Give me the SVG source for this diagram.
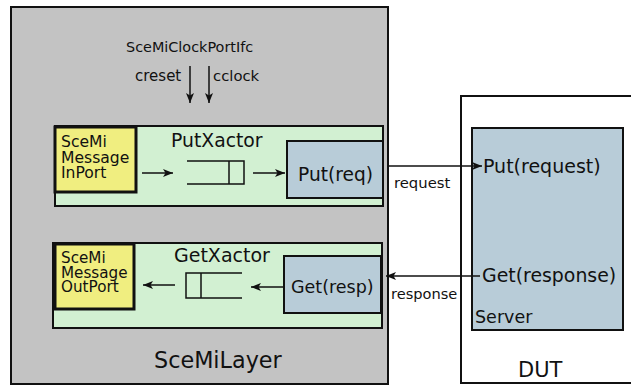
<svg xmlns="http://www.w3.org/2000/svg" width="631" height="387" viewBox="0 0 631 387">
<style>
text{font-family:"DejaVu Sans",Verdana,sans-serif;fill:#111}
.box{stroke:#111;stroke-width:2}
.thick{stroke:#111;stroke-width:3}
.line{stroke:#111;stroke-width:1.5;fill:none}
.gray{fill:#c3c3c3}
.green{fill:#d2f0d2}
.yellow{fill:#f0ee80}
.blue{fill:#b8ccd8}
</style>
<defs>
<marker id="ah" markerUnits="userSpaceOnUse" markerWidth="12" markerHeight="10" refX="10" refY="4" orient="auto">
<path d="M0,0 L10,4 L0,8 L2.5,4 z" fill="#111"/>
</marker>
</defs>
<g id="scemilayer">
<rect class="box gray" x="11" y="7" width="377" height="377"/>
<text x="154" y="368" font-size="22.3">SceMiLayer</text>
</g>
<g id="dut">
<rect class="box" fill="#fff" x="461" y="96" width="175" height="287"/>
<text x="518" y="377" font-size="21">DUT</text>
</g>
<g id="server">
<rect class="box blue" x="472" y="128" width="151" height="202"/>
<text x="483" y="173" font-size="19">Put(request)</text>
<text x="482" y="282" font-size="18.9">Get(response)</text>
<text x="475" y="323" font-size="17.5">Server</text>
</g>
<g id="clockport">
<text x="126" y="52" font-size="14.4">SceMiClockPortIfc</text>
<text x="135" y="81" font-size="15">creset</text>
<text x="213" y="81" font-size="14.8">cclock</text>
</g>
<g id="putxactor">
<rect class="box green" x="55" y="126" width="328" height="80"/>
<text x="171" y="147" font-size="18.8">PutXactor</text>
<path class="line" d="M187,161 H244 V184 H187 M229,161 V184"/>
</g>
<g id="inport">
<rect class="thick yellow" x="55" y="127" width="81" height="65"/>
<text font-size="15.6"><tspan x="61" y="147">SceMi</tspan><tspan x="61" y="163">Message</tspan><tspan x="61" y="178">InPort</tspan></text>
</g>
<g id="putreq">
<rect class="box blue" x="287" y="141" width="96" height="57"/>
<text x="298" y="181" font-size="18.6">Put(req)</text>
</g>
<g id="getxactor">
<rect class="box green" x="53" y="243" width="329" height="85"/>
<text x="174" y="262" font-size="19">GetXactor</text>
<path class="line" d="M242,273 H186 V298 H242 M201,273 V298"/>
</g>
<g id="outport">
<rect class="thick yellow" x="55" y="244" width="79" height="65"/>
<text font-size="15.2"><tspan x="61" y="263">SceMi</tspan><tspan x="61" y="278">Message</tspan><tspan x="61" y="292">OutPort</tspan></text>
</g>
<g id="getresp">
<rect class="box blue" x="284" y="256" width="97" height="57"/>
<text x="291" y="293" font-size="17.5">Get(resp)</text>
</g>
<g id="connectors">
<path class="line" d="M190,66 V103" marker-end="url(#ah)"/>
<path class="line" d="M209,66 V103" marker-end="url(#ah)"/>
<path class="line" d="M142,173 H173" marker-end="url(#ah)"/>
<path class="line" d="M253,173 H285" marker-end="url(#ah)"/>
<path class="line" d="M175,285 H143" marker-end="url(#ah)"/>
<path class="line" d="M283,287 H251" marker-end="url(#ah)"/>
<path class="line" d="M388,166 H482" marker-end="url(#ah)"/>
<path class="line" d="M480,276 H386" marker-end="url(#ah)"/>
<text x="394" y="188" font-size="14.8">request</text>
<text x="391" y="299" font-size="14.6">response</text>
</g>
</svg>
